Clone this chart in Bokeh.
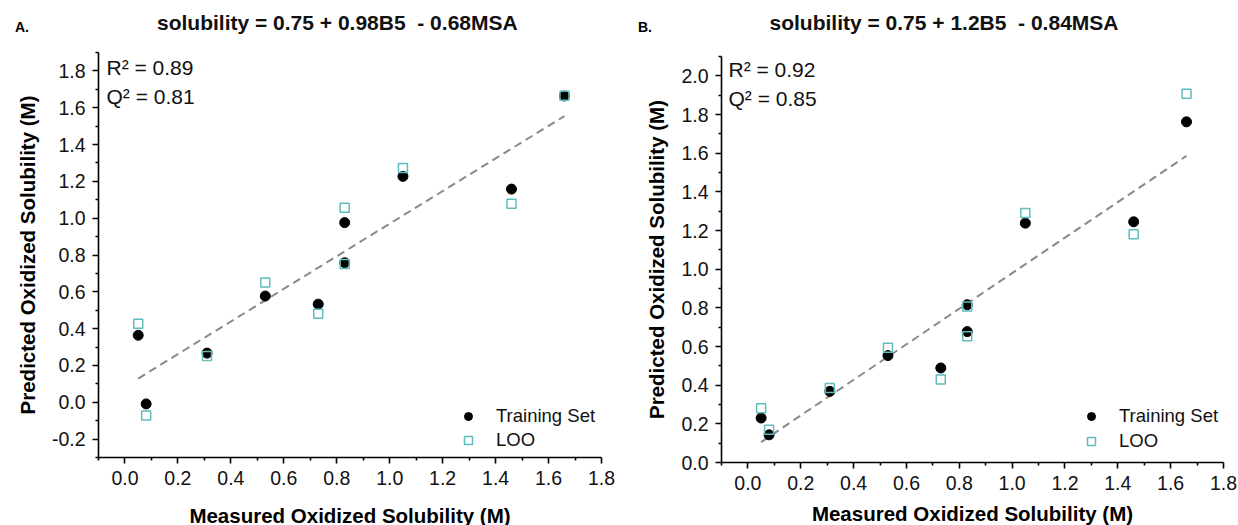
import numpy as np
from bokeh.plotting import figure
from bokeh.layouts import row, column
from bokeh.models import (Range1d, FixedTicker, Label, Legend, LegendItem,
                          PrintfTickFormatter, Div)
from bokeh.embed import file_html
from bokeh.resources import INLINE

FONT = "Liberation Sans"

# measured oxidized solubility (M), shared by both models
measured = [0.05, 0.08, 0.31, 0.53, 0.73, 0.83, 0.83, 1.05, 1.46, 1.66]

# model A: predictions for the training fit and leave-one-out
train_a = [0.364, -0.009, 0.267, 0.577, 0.533, 0.976, 0.758, 1.227, 1.158, 1.664]
loo_a = [0.427, -0.072, 0.252, 0.650, 0.481, 1.056, 0.751, 1.273, 1.078, 1.665]

# model B
train_b = [0.230, 0.143, 0.368, 0.553, 0.489, 0.816, 0.677, 1.238, 1.245, 1.762]
loo_b = [0.280, 0.169, 0.385, 0.593, 0.429, 0.807, 0.653, 1.290, 1.181, 1.907]

x_ticks = [0.0, 0.2, 0.4, 0.6, 0.8, 1.0, 1.2, 1.4, 1.6, 1.8]
y_ticks_a = [-0.2, 0.0, 0.2, 0.4, 0.6, 0.8, 1.0, 1.2, 1.4, 1.6, 1.8]
y_ticks_b = [0.0, 0.2, 0.4, 0.6, 0.8, 1.0, 1.2, 1.4, 1.6, 1.8, 2.0]

HEADER_H = 40


def minor_between(lo, hi):
    return [round(v, 2) for v in np.arange(lo, hi + 1e-9, 0.2)]


def style_axis(ax, ticks, minor, label, label_standoff):
    ax.ticker = FixedTicker(ticks=ticks, minor_ticks=minor)
    ax.formatter = PrintfTickFormatter(format="%.1f")
    ax.axis_label = label
    ax.axis_line_color = "black"
    ax.axis_line_width = 1.6
    ax.major_tick_line_color = "black"
    ax.major_tick_line_width = 1.6
    ax.minor_tick_line_color = "black"
    ax.minor_tick_line_width = 1.6
    ax.major_tick_in = 0
    ax.major_tick_out = 6
    ax.minor_tick_in = 0
    ax.minor_tick_out = 3
    ax.major_label_text_font = FONT
    ax.major_label_text_font_size = "19.5px"
    ax.major_label_text_color = "#111111"
    ax.major_label_standoff = 7
    ax.axis_label_text_font = FONT
    ax.axis_label_text_font_size = "20.5px"
    ax.axis_label_text_font_style = "bold"
    ax.axis_label_text_color = "black"
    ax.axis_label_standoff = label_standoff


def header(tag, equation, width, tag_x, eq_x):
    # panel letter and regression equation above each plot
    html = (
        f'<div style="position:relative;width:{width}px;height:{HEADER_H}px;">'
        f'<span style="position:absolute;left:{tag_x}px;top:20.4px;line-height:1;'
        f'font-family:\'{FONT}\';font-size:14px;font-weight:bold;color:#000;'
        f'white-space:pre;">{tag}</span>'
        f'<span style="position:absolute;left:{eq_x}px;top:12.2px;line-height:1;'
        f'font-family:\'{FONT}\';font-size:21px;font-weight:bold;color:#111;'
        f'white-space:pre;">{equation}</span>'
        '</div>'
    )
    return Div(text=html, width=width, height=HEADER_H, margin=0)


def panel(train, loo, r2, q2, y_range, y_ticks, y_minor, geom):
    p = figure(
        frame_width=geom["fw"], frame_height=geom["fh"],
        min_border_left=geom["left"], min_border_right=geom["right"],
        min_border_top=geom["top"] - HEADER_H, min_border_bottom=geom["bottom"],
        x_range=Range1d(-0.1, 1.8), y_range=Range1d(*y_range),
        output_backend="svg", toolbar_location=None,
    )
    p.grid.visible = False
    p.outline_line_color = None
    p.background_fill_color = "white"
    p.border_fill_color = "white"

    style_axis(p.xaxis[0], x_ticks, minor_between(-0.1, 1.7),
               "Measured Oxidized Solubility (M)", geom["xls"])
    style_axis(p.yaxis[0], y_ticks, y_minor,
               "Predicted Oxidized Solubility (M)", 10)

    # least-squares trend of the training predictions
    slope, icpt = np.polyfit(measured, train, 1)
    xs = [min(measured), max(measured)]
    p.line(xs, [icpt + slope * v for v in xs], line_color="#8a8a8a",
           line_width=2, line_dash="8 5")

    r_train = p.scatter(measured, train, marker="circle", size=10,
                        fill_color="black", line_color="black")
    r_loo = p.scatter(measured, loo, marker="square", size=9,
                      fill_color=None, line_color="#5fbcbc", line_width=1.5)

    legend = Legend(
        items=[LegendItem(label="Training Set", renderers=[r_train]),
               LegendItem(label="LOO", renderers=[r_loo])],
        location=geom["legend"], padding=0, margin=0, spacing=geom["lsp"],
        glyph_width=20, glyph_height=20, label_height=20, label_standoff=18,
        label_text_font=FONT, label_text_font_size="18.5px",
        label_text_color="#111111",
        background_fill_alpha=0, border_line_color=None,
    )
    p.add_layout(legend)

    fh = geom["fh"]
    for text, dy in ((f"R\u00b2 = {r2}", geom["r_top"]), (f"Q\u00b2 = {q2}", geom["r_top"] + 29)):
        p.add_layout(Label(x=geom["r_x"], y=fh - dy, x_units="screen", y_units="screen",
                           text=text, text_font=FONT, text_font_size="21px",
                           text_color="#111111", text_baseline="alphabetic"))
    return p


geom_a = dict(fw=503, fh=405, left=98, right=19, top=52, bottom=68, xls=16,
              legend=(360, 6), lsp=2, r_x=8, r_top=14.5)
geom_b = dict(fw=502, fh=406, left=101, right=15, top=56, bottom=63, xls=9,
              legend=(360, 10), lsp=3, r_x=7, r_top=12.5)

pa = panel(train_a, loo_a, "0.89", "0.81",
           (-0.3, 1.9), y_ticks_a, minor_between(-0.3, 1.9), geom_a)
pb = panel(train_b, loo_b, "0.92", "0.85",
           (0.0, 2.1), y_ticks_b, minor_between(0.1, 2.1), geom_b)

ha = header("A.", "solubility = 0.75 + 0.98B5  - 0.68MSA", 620, 15, 157)
hb = header("B.", "solubility = 0.75 + 1.2B5  - 0.84MSA", 618, 18, 149.5)

layout = row(column(ha, pa, spacing=0), column(hb, pb, spacing=0), spacing=0)
open("out.html", "w").write(file_html(layout, INLINE))
